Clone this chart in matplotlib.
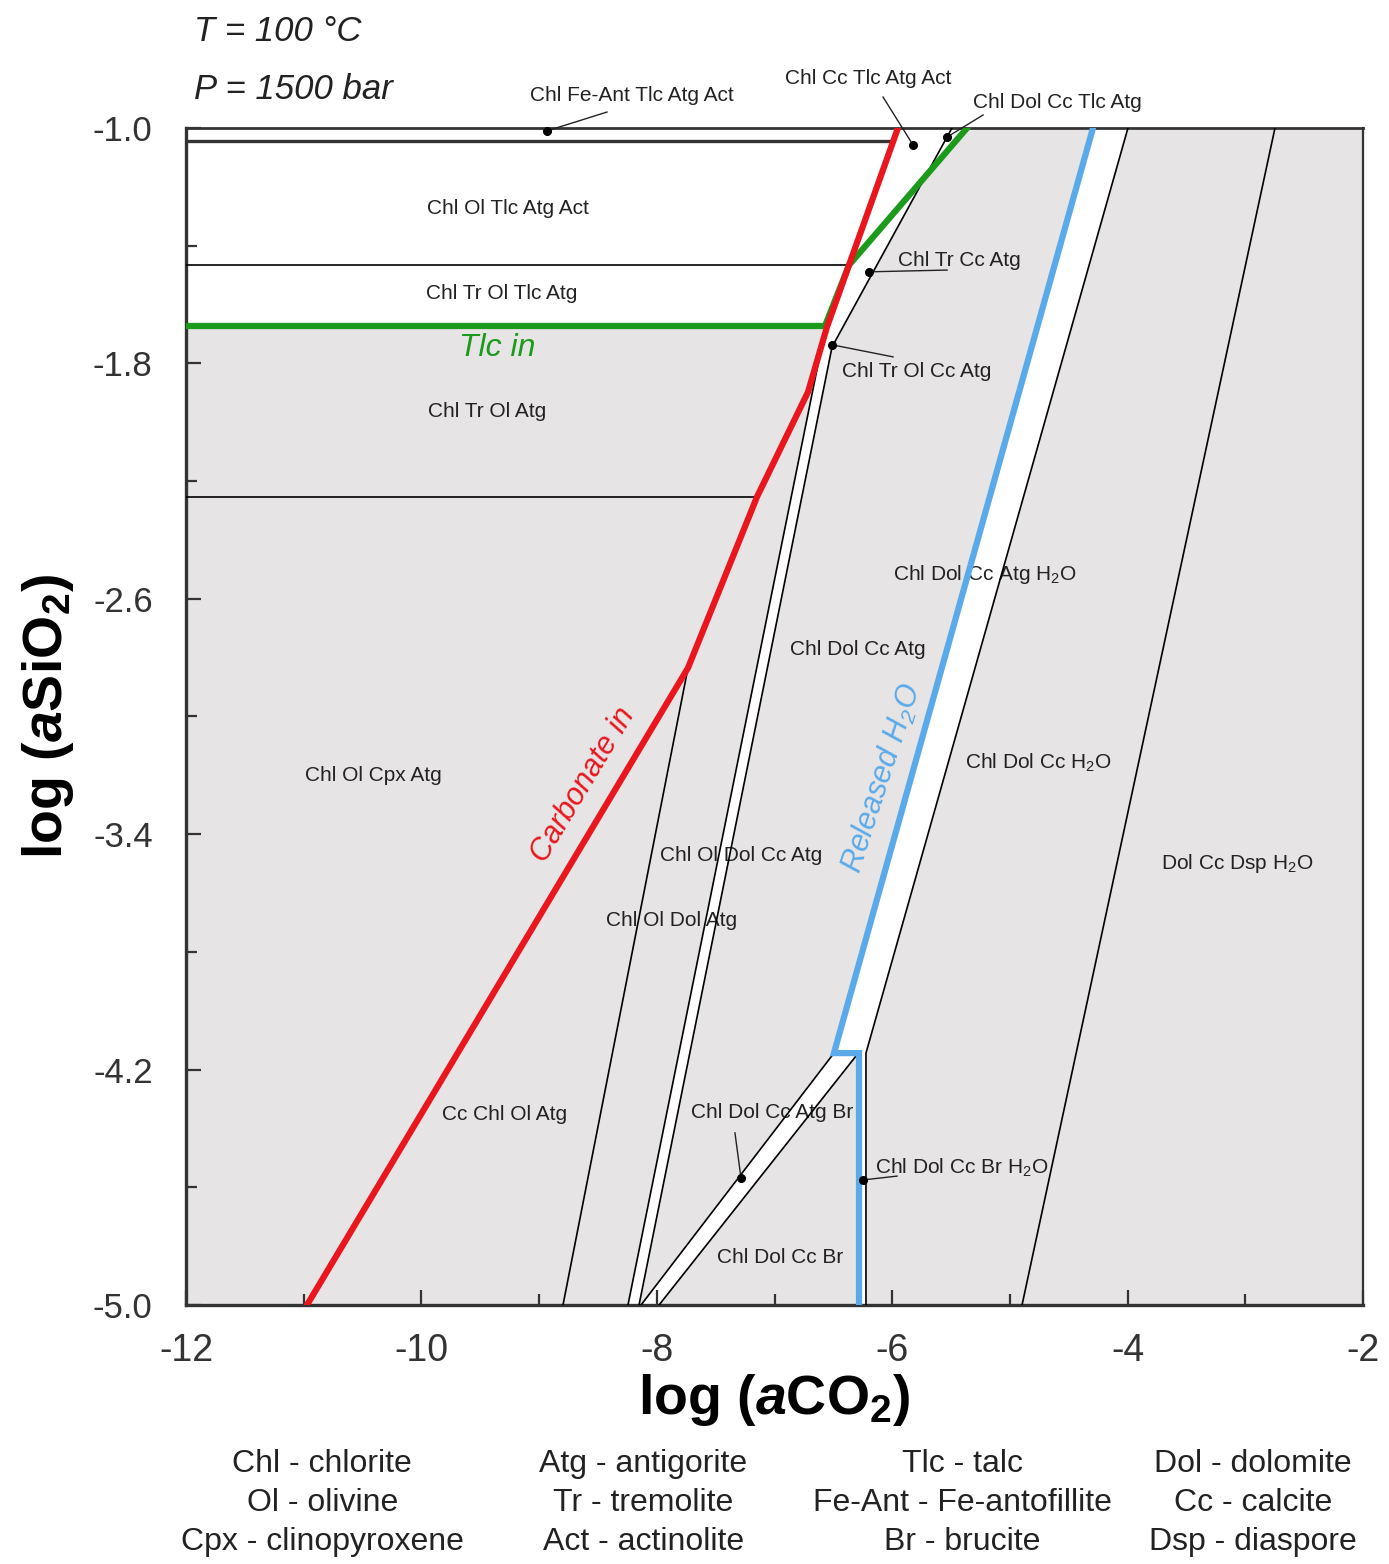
import numpy as np
import matplotlib
matplotlib.use('Agg')
import matplotlib.pyplot as plt
from matplotlib import font_manager as fm
from matplotlib.ticker import FixedLocator, MultipleLocator, FormatStrFormatter

plt.rcParams['font.family'] = ['Liberation Sans', 'DejaVu Sans']
plt.rcParams['axes.unicode_minus'] = False
plt.rcParams['mathtext.fontset'] = 'custom'
plt.rcParams['mathtext.default'] = 'regular'
plt.rcParams['mathtext.rm'] = 'Liberation Sans'
plt.rcParams['mathtext.it'] = 'Liberation Sans:italic:bold'

names = {f.name for f in fm.fontManager.ttflist}
narrow = 'Liberation Sans Narrow' if 'Liberation Sans Narrow' in names else 'Liberation Sans'

# phase boundaries, log aCO2 vs log aSiO2
carb_x = [-10.972, -7.735, -7.149, -6.715, -6.554, -6.367, -5.951]
carb_y = [-5.0, -2.835, -2.254, -1.897, -1.676, -1.466, -1.0]

tlc_x = [-12.0, -6.571, -6.367, -5.364]
tlc_y = [-1.673, -1.673, -1.466, -1.0]

h2o_x = [-4.294, -6.495, -6.282, -6.282]
h2o_y = [-1.0, -4.144, -4.144, -5.0]

hz_y = [-1.044, -1.466, -2.254]
hz_xend = [-5.99, -6.367, -7.149]

a_x = [-7.735, -8.797]
a_y = [-2.835, -5.0]
b_x = [-8.245, -6.588]
b_y = [-5.0, -1.720]
c_x = [-8.151, -6.511, -5.492]
c_y = [-5.0, -1.744, -1.0]
d_x = [-3.997, -6.223, -6.223]
d_y = [-1.0, -4.144, -5.0]
e_x = [-2.748, -4.897]
e_y = [-1.0, -5.0]
brup_x = [-6.495, -8.134]
brup_y = [-4.144, -5.0]
brlo_x = [-6.30, -7.981]
brlo_y = [-4.15, -5.0]

yticks = [-1.0, -1.8, -2.6, -3.4, -4.2, -5.0]

# field names
field_txt = ['Chl Ol Tlc Atg Act', 'Chl Tr Ol Tlc Atg', 'Chl Tr Ol Atg',
             'Chl Dol Cc Atg H$_2$O', 'Chl Dol Cc Atg', 'Chl Ol Cpx Atg',
             'Chl Dol Cc H$_2$O', 'Chl Ol Dol Cc Atg', 'Dol Cc Dsp H$_2$O',
             'Chl Ol Dol Atg', 'Cc Chl Ol Atg', 'Chl Dol Cc Br']
field_x = [-9.264, -9.315, -9.443, -5.212, -6.291, -10.411,
           -4.761, -7.285, -3.070, -7.871, -9.290, -6.953]
field_y = [-1.275, -1.561, -1.965, -2.516, -2.771, -3.199,
           -3.158, -3.471, -3.498, -3.692, -4.354, -4.837]

# narrow fields with leader lines
note_txt = ['Chl Fe-Ant Tlc Atg Act', 'Chl Cc Tlc Atg Act', 'Chl Dol Cc Tlc Atg',
            'Chl Tr Cc Atg', 'Chl Tr Ol Cc Atg', 'Chl Dol Cc Atg Br',
            'Chl Dol Cc Br H$_2$O']
dot_x = [-8.933, -5.823, -5.534, -6.197, -6.511, -7.285, -6.248]
dot_y = [-1.010, -1.058, -1.031, -1.489, -1.737, -4.568, -4.575]
lead_x = [-8.423, -6.078, -5.228, -5.534, -5.993, -7.336, -5.959]
lead_y = [-0.946, -0.895, -0.956, -1.483, -1.778, -4.415, -4.562]
note_x = [-8.211, -6.206, -4.600, -5.432, -5.789, -7.021, -5.407]
note_y = [-0.891, -0.833, -0.912, -1.449, -1.829, -4.347, -4.534]

abbrev = [['Chl - chlorite', 'Ol - olivine', 'Cpx - clinopyroxene'],
          ['Atg - antigorite', 'Tr - tremolite', 'Act - actinolite'],
          ['Tlc - talc', 'Fe-Ant - Fe-antofillite', 'Br - brucite'],
          ['Dol - dolomite', 'Cc - calcite', 'Dsp - diaspore']]


def cross(p1, p2, q1, q2):
    p1, p2, q1, q2 = map(np.asarray, (p1, p2, q1, q2))
    r, s = p2 - p1, q2 - q1
    t = np.cross(q1 - p1, s) / np.cross(r, s)
    return p1 + t * r


gray = '#e6e4e4'
red = '#ea161e'
green = '#1c9a1c'
blue = '#5aaaea'

fig = plt.figure(figsize=(13.89, 15.64), dpi=100)
ax = fig.add_axes([0.1339, 0.1656, 0.8474, 0.7526])
ax.set_facecolor(gray)
ax.set_xlim(-12, -2)
ax.set_ylim(-5.0, -1.0)

# white fields: talc side of the diagram and the H2O / brucite bands
gx = cross((tlc_x[2], tlc_y[2]), (tlc_x[3], tlc_y[3]),
           (c_x[1], c_y[1]), (c_x[2], c_y[2]))
w1_x = [-12.0, tlc_x[3], gx[0], c_x[1], c_x[0], b_x[0], b_x[1], tlc_x[1], tlc_x[0]]
w1_y = [-1.0, tlc_y[3], gx[1], c_y[1], c_y[0], b_y[0], b_y[1], tlc_y[1], tlc_y[0]]
ax.fill(w1_x, w1_y, color='white', lw=0, zorder=1)

w2_x = [h2o_x[0]] + d_x + [h2o_x[3], h2o_x[2]] + brlo_x + brup_x[::-1]
w2_y = [h2o_y[0]] + d_y + [h2o_y[3], h2o_y[2]] + brlo_y + brup_y[::-1]
ax.fill(w2_x, w2_y, color='white', lw=0, zorder=1)

# black reaction lines
for yy, xe in zip(hz_y, hz_xend):
    ax.plot([-12, xe], [yy, yy], color='black', lw=1.2, zorder=3)
ax.plot([-12, hz_xend[0]], [hz_y[0], hz_y[0]], color='#333333', lw=2.4, zorder=3)
for lx, ly in [(a_x, a_y), (b_x, b_y), (c_x, c_y), (d_x, d_y),
               (e_x, e_y), (brup_x, brup_y), (brlo_x, brlo_y)]:
    ax.plot(lx, ly, color='black', lw=1.2, zorder=3)

# highlighted boundaries
ax.plot(h2o_x, h2o_y, color=blue, lw=4.5, zorder=4, solid_joinstyle='miter')
ax.plot(tlc_x, tlc_y, color=green, lw=4.5, zorder=4)
ax.plot(carb_x, carb_y, color=red, lw=4.5, zorder=5)

for t, x, y in zip(field_txt, field_x, field_y):
    ax.text(x, y, t, fontsize=15, color='#222222', ha='center', va='center', zorder=2)

for i, t in enumerate(note_txt):
    ax.plot([dot_x[i], lead_x[i]], [dot_y[i], lead_y[i]], color='#222222',
            lw=1.0, clip_on=False, zorder=6)
    ax.plot(dot_x[i], dot_y[i], 'o', color='black', ms=5.5, clip_on=False, zorder=7)
    ax.text(note_x[i], note_y[i], t, fontsize=15, color='#222222',
            ha='center', va='center', zorder=2, clip_on=False)

ax.text(-9.358, -1.748, 'Tlc in', fontsize=23, style='italic', color=green,
        ha='center', va='center', zorder=2)
ax.text(-8.627, -3.233, 'Carbonate in', fontsize=22, style='italic', color=red,
        ha='center', va='center', rotation=59, rotation_mode='anchor', zorder=2)
ax.text(-6.087, -3.209, 'Released H$_2$O', fontsize=22, style='italic', color=blue,
        ha='center', va='center', rotation=72, rotation_mode='anchor', zorder=2)

fig.text(0.140, 0.980, 'T = 100 °C', fontsize=25, style='italic', color='#222222',
         ha='left', va='center')
fig.text(0.140, 0.943, 'P = 1500 bar', fontsize=25, style='italic', color='#222222',
         ha='left', va='center')

# axes styling
ax.xaxis.set_major_locator(MultipleLocator(2))
ax.xaxis.set_minor_locator(MultipleLocator(1))
ax.yaxis.set_major_locator(FixedLocator(yticks))
ax.yaxis.set_minor_locator(FixedLocator([v - 0.4 for v in yticks[:-1]]))
ax.yaxis.set_major_formatter(FormatStrFormatter('%.1f'))
ax.tick_params(which='both', direction='in', top=False, right=False, width=1.6,
               colors='#333333')
ax.tick_params(axis='x', which='major', length=11, pad=20)
ax.tick_params(axis='y', which='major', length=11, pad=24)
ax.tick_params(which='minor', length=8)
for lab in ax.get_xticklabels():
    lab.set_fontfamily(narrow)
    lab.set_fontsize(27)
for lab in ax.get_yticklabels():
    lab.set_fontsize(25)
for side, w in [('left', 2.4), ('bottom', 2.4), ('top', 2.0), ('right', 1.6)]:
    ax.spines[side].set_linewidth(w)
    ax.spines[side].set_color('#333333')

ax.set_xlabel(r'log ($\it{a}$CO$_2$)', fontsize=40, fontweight='bold',
              fontfamily=narrow, labelpad=2)
ax.set_ylabel(r'log ($\it{a}$SiO$_2$)', fontsize=40, fontweight='bold',
              fontfamily=narrow, labelpad=12)

# abbreviation key under the plot
col_x = [0.232, 0.463, 0.693, 0.902]
row_y = [0.064, 0.039, 0.014]
for cx, col in zip(col_x, abbrev):
    for ry, t in zip(row_y, col):
        fig.text(cx, ry, t, fontsize=23, fontfamily=narrow, color='#222222',
                 ha='center', va='center')

fig.savefig('out.png', dpi=100)
